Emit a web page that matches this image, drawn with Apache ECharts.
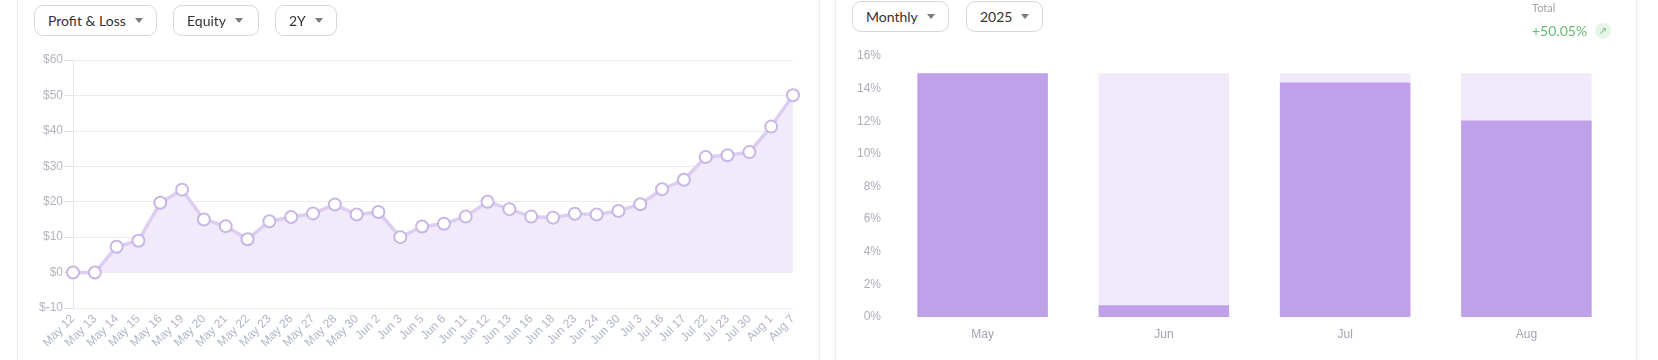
<!DOCTYPE html>
<html>
<head>
<meta charset="utf-8">
<script src="https://cdn.jsdelivr.net/npm/echarts@6/dist/echarts.min.js"></script>
<style>
  html, body { margin:0; padding:0; width:1658px; height:360px; background:#fff; overflow:hidden; }
  #chart { position:absolute; left:0; top:0; width:1658px; height:360px; }
  .vline { position:absolute; top:0; height:360px; width:0; border-left:1px solid #ececf0; }
  .btn { position:absolute; box-sizing:border-box; height:31px; border:1px solid #d6d6dc; border-radius:9px;
         font-family: Lato, "Open Sans", sans-serif; font-size:14px; color:#333; background:#fff;
         display:flex; align-items:center; padding-left:13px; }
  .btn .caret { display:inline-block; margin-left:9px; width:0; height:0; border-left:4px solid transparent;
         border-right:4px solid transparent; border-top:5px solid #7a7a80; }
  .total { position:absolute; left:1532px; top:1px; font-family: Lato, "Open Sans", sans-serif; font-size:11px; color:#a3a3ab; }
  .pct { position:absolute; left:1532px; top:22px; font-family: Lato, "Open Sans", sans-serif; font-size:14px; color:#66bb77; }
  .arrow { position:absolute; left:1595px; top:23px; width:16px; height:16px; border-radius:8px; background:#e6f5e8;
           color:#6cbf7c; font-size:10px; line-height:16px; text-align:center; font-family:"DejaVu Sans", sans-serif; }
</style>
</head>
<body>
<div id="chart"></div>
<div class="vline" style="left:17px"></div>
<div class="vline" style="left:819px"></div>
<div class="vline" style="left:835px"></div>
<div class="vline" style="left:1636px"></div>

<div class="btn" style="left:34px;top:5px;width:123px;">Profit &amp; Loss<span class="caret"></span></div>
<div class="btn" style="left:173px;top:5px;width:86px;">Equity<span class="caret"></span></div>
<div class="btn" style="left:275px;top:5px;width:62px;">2Y<span class="caret"></span></div>
<div class="btn" style="left:852px;top:1px;width:97px;">Monthly<span class="caret"></span></div>
<div class="btn" style="left:966px;top:1px;width:77px;">2025<span class="caret"></span></div>
<div class="total">Total</div>
<div class="pct">+50.05%</div>
<div class="arrow">↗</div>

<script>
// ---- Data ----
const equityDates = ['May 12','May 13','May 14','May 15','May 16','May 19','May 20','May 21','May 22','May 23',
  'May 26','May 27','May 28','May 30','Jun 2','Jun 3','Jun 5','Jun 6','Jun 11','Jun 12','Jun 13','Jun 16',
  'Jun 18','Jun 23','Jun 24','Jun 30','Jul 3','Jul 16','Jul 17','Jul 22','Jul 23','Jul 30','Aug 1','Aug 7'];
const equityValues = [0, 0, 7.3, 9.0, 19.7, 23.4, 15.0, 13.1, 9.4, 14.5,
  15.7, 16.7, 19.2, 16.4, 17.1, 10.0, 13.0, 13.8, 15.8, 20.0, 17.9, 15.8,
  15.5, 16.6, 16.4, 17.4, 19.3, 23.5, 26.2, 32.6, 33.1, 34.0, 41.2, 50.05];
const equityTicks = { min: -10, max: 60, interval: 10 };

const months = ['May','Jun','Jul','Aug'];
const monthlyReturn = [14.95, 0.72, 14.37, 12.04];
const monthlyCeiling = [14.95, 14.95, 14.95, 14.95];
const returnTicks = { min: 0, max: 16, interval: 2 };

// ---- Chart ----
const chart = echarts.init(document.getElementById('chart'), null, { renderer: 'canvas' });
const axisFont = '"Liberation Sans", Arial, sans-serif';
chart.setOption({
  animation: false,
  grid: [
    { left: 73, right: 865, top: 60, bottom: 52 },
    { left: 892, right: 41, top: 56, bottom: 43 }
  ],
  xAxis: [
    { type: 'category', gridIndex: 0, data: equityDates, boundaryGap: false,
      axisLine: { show: false }, axisTick: { show: false },
      axisLabel: { rotate: 45, fontSize: 12, color: '#b1b5c8', fontFamily: axisFont, margin: 9, interval: 0 } },
    { type: 'category', gridIndex: 1, data: months,
      axisLine: { show: false }, axisTick: { show: false },
      axisLabel: { fontSize: 12, color: '#a0a4b2', fontFamily: axisFont, margin: 12 } }
  ],
  yAxis: [
    { type: 'value', gridIndex: 0, min: equityTicks.min, max: equityTicks.max, interval: equityTicks.interval,
      axisLine: { show: true, lineStyle: { color: '#e6e6ea' } },
      axisTick: { show: true, length: 9, lineStyle: { color: '#e3e3e8' } },
      splitLine: { lineStyle: { color: '#ebebee' } },
      axisLabel: { formatter: v => '$' + v, fontSize: 12, color: '#b3b3bd', fontFamily: axisFont, margin: 10 } },
    { type: 'value', gridIndex: 1, min: returnTicks.min, max: returnTicks.max, interval: returnTicks.interval,
      axisLine: { show: false }, axisTick: { show: false }, splitLine: { show: false },
      axisLabel: { formatter: '{value}%', fontSize: 12, color: '#abaeb9', fontFamily: axisFont, margin: 11 } }
  ],
  series: [
    { type: 'line', xAxisIndex: 0, yAxisIndex: 0, data: equityValues,
      symbol: 'circle', symbolSize: 12,
      lineStyle: { color: '#dccdf1', width: 3.5 },
      itemStyle: { color: '#ffffff', borderColor: '#c8b6e6', borderWidth: 2 },
      areaStyle: { color: '#f0eafb', opacity: 1 } },
    { type: 'bar', xAxisIndex: 1, yAxisIndex: 1, data: monthlyCeiling, barWidth: '72%', barGap: '-100%',
      itemStyle: { color: '#f0eafa' }, z: 1 },
    { type: 'bar', xAxisIndex: 1, yAxisIndex: 1, data: monthlyReturn, barWidth: '72%', barGap: '-100%',
      itemStyle: { color: '#c0a1e9' }, z: 2 }
  ]
});
</script>
</body>
</html>
